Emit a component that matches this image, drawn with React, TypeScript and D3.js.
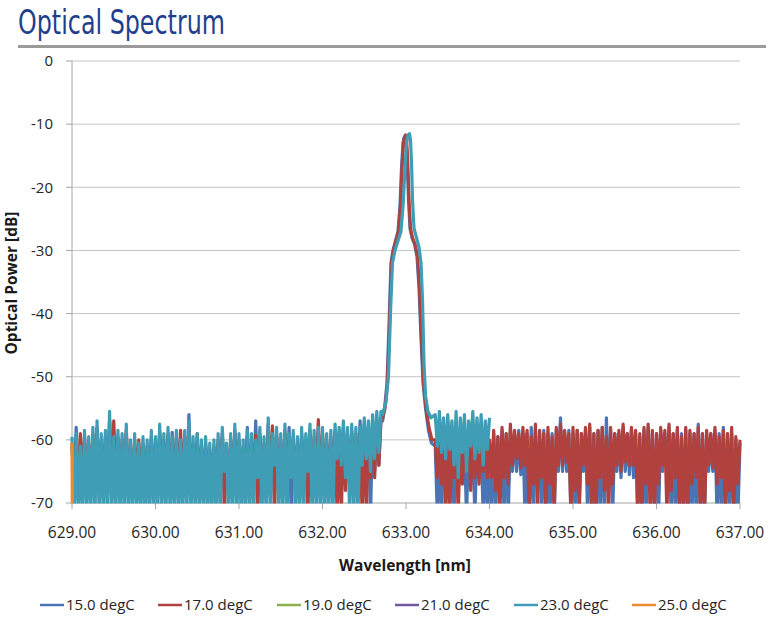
import React from "react";
import * as d3 from "d3";

// ---------- data ----------
const X_TICKS = [629, 630, 631, 632, 633, 634, 635, 636, 637];
const Y_TICKS = [0, -10, -20, -30, -40, -50, -60, -70];
const SERIES_NAMES = ["15.0 degC", "17.0 degC", "19.0 degC", "21.0 degC", "23.0 degC", "25.0 degC"];
const SERIES_COLORS = ["#4a74b4", "#b0413e", "#8db04f", "#7358a0", "#3f9db5", "#f08a30"];

// noise floor samples on a regular wavelength grid
const NOISE_STEP = 0.025;
const LEFT_START = 629.0;
const RIGHT_START = 633.35;

// 15.0 degC
const blueLeft = [
  -61,-67,-58,-67,-62.5,-67,-60,-67,-61,-67,-59.5,-67,-58.5,-67,-60.5,-67,-60,-67,-57,-67,
  -61,-67,-60,-67,-60.5,-67,-59,-67,-61.5,-67,-60.5,-67,-62,-67,-61,-67,-61.5,-67,-60,-67,
  -61,-67,-59,-67,-60.5,-67,-59.5,-67,-58.8,-67,-60,-67,-61.5,-67,-60,-67,-56,-67,-61,-67,
  -60.5,-67,-61.5,-67,-61,-67,-62,-67,-61.5,-67,-60.5,-67,-59.5,-67,-62,-67,-60.5,-67,-59,-67,
  -60.5,-67,-61.5,-67,-58,-67,-60.5,-67,-57,-67,-59.5,-67,-61,-67,-58,-67,-60.5,-67,-59.5,-67,
  -60.5,-67,-59,-67,-58,-72,-60,-67,-61,-67,-59.5,-67,-60.5,-67,-59,-67,-60,-67,-59.5,-67,
  -59.5,-67,-60.5,-67,-60,-67,-59,-67,-59.5,-67,-58.5,-67,-59.5,-67,-59,-67,-59.5,-67,-57,-67,
  -58,-67,-58.5,-72,-57.5,-65,-57,-64,-57,
];
const bluePeak: [number, number][] = [
  [632.72, -57], [632.743, -55], [632.772, -51], [632.796, -42], [632.82, -32], [632.844, -30],
  [632.874, -28.5], [632.904, -27], [632.928, -23], [632.946, -17], [632.964, -13], [632.976, -12.2],
  [632.988, -12], [633.0, -12.5], [633.012, -15], [633.03, -22], [633.048, -26.5], [633.072, -28],
  [633.102, -29], [633.132, -31], [633.156, -36], [633.18, -44], [633.204, -51], [633.234, -55],
  [633.269, -58.5], [633.305, -60.5],
];
const blueRight = [
  -61,-72,-61,-72,-60.5,-68,-61,-67,-60,-72,-61,-68,-60,-66,-61,-72,-60,-67,-61,-72,-60.5,-66,-61,-72,-60,-72,-60.5,
  -72,-59,-72,-59.5,-66,-58.5,-72,-59,-72,-58.5,
  -65,-59,-65,-58.5,-65.5,-59,-72,-59,-72,-58,
  -72,-58.5,-68,-59,-72,-58.5,-72,-59,-72,-59,
  -72,-58.5,-65,-56.5,-65,-59,-65,-58.5,-72,-59,
  -72,-58.5,-70,-59,-65,-58.5,-72,-58,-72,-59,
  -72,-58.5,-72,-58,-72,-56.5,-68,-58.5,-72,-59,
  -65,-59,-66,-58,-65,-59,-65.5,-58.5,-66,-59,
  -72,-59.5,-72,-58.5,-72,-58,-70,-59,-72,-59,
  -72,-58.5,-65,-59,-65,-58,-72,-59,-72,-58.5,
  -72,-59,-72,-58.5,-72,-59,-72,-59,-72,-57.5,
  -72,-59,-72,-59,-65,-59,-65,-58.5,-72,-59,
  -72,-58,-72,-59,-72,-59,-72,-60,-72,-60.5,
];

// 17.0 degC
const redLeft = [
  -60.5,-66,-60,-66,-59,-66,-59.5,-66,-60.5,-66,-59,-66,-58,-66,-60,-66,-59.5,-66,-57,-66,
  -57,-66,-59.5,-66,-60,-66,-58.5,-66,-61,-66,-60,-66,-60,-66,-60.5,-66,-61,-66,-59.5,-66,
  -60.5,-66,-58.5,-66,-60,-66,-59,-66,-60.5,-66,-59.5,-66,-58.5,-66,-59.5,-66,-58,-66,-60.5,-66,
  -59,-66,-61,-66,-60.5,-66,-61.5,-66,-61,-66,-60,-66,-59,-72,-61.5,-66,-60,-66,-58.5,-66,
  -60,-66,-61,-66,-59.5,-66,-60,-66,-59.3,-72,-59,-66,-60.5,-66,-57.5,-66,-57.8,-72,-59,-66,
  -60,-66,-58.5,-66,-60,-66,-59.5,-66,-60.5,-66,-59,-66,-60,-72,-58.5,-66,-59.5,-66,-56.8,-66,
  -59,-66,-60,-66,-59.5,-66,-58.5,-72,-59,-72,-58,-68,-59,-66,-58.5,-66,-59,-66,-59,-72,
  -57.5,-72,-58,-66,-57,-66,-56.5,-64,-56.5,
];
const redPeak: [number, number][] = [
  [632.72, -56.5], [632.749, -55], [632.778, -51], [632.802, -42], [632.826, -32], [632.85, -30],
  [632.88, -28.5], [632.91, -27], [632.934, -23], [632.952, -17], [632.97, -13], [632.982, -12],
  [632.994, -11.7], [633.006, -12.3], [633.018, -15], [633.036, -22], [633.054, -26.5], [633.078, -28],
  [633.108, -29], [633.138, -31], [633.162, -36], [633.186, -44], [633.21, -51], [633.24, -55],
  [633.275, -58], [633.311, -60],
];
const redRight = [
  -60,-66,-60.5,-67,-59.5,-72,-60,-72,-61,-66,-59.5,-72,-60.5,-67,-60,-65,-59,-68,-60.5,-66,-59.5,-67,-60,-65,-59,-66,-60,
  -66,-58.5,-68,-59.5,-72,-58,-66,-59,-67,-57.5,
  -64,-58.5,-63,-59,-64.5,-58,-64,-58.5,-72,-59.5,
  -67,-57.5,-72,-58.5,-66,-59,-72,-58,-67,-59.5,
  -72,-58,-64,-57.5,-64,-58.5,-63.5,-59,-72,-58,
  -68,-58.5,-72,-59,-64,-58,-67,-57.5,-72,-59,
  -72,-58.5,-66,-58,-68,-59.5,-72,-58,-67,-59,
  -64,-58.5,-65,-57.5,-63.5,-59,-64,-58,-64,-58.5,
  -72,-59,-72,-58,-67,-57.5,-72,-58.5,-72,-59,
  -67,-58,-64,-58.5,-72,-57.5,-68,-59,-66,-58,
  -72,-59.5,-72,-58,-72,-58.5,-67,-59,-66,-58,
  -72,-59,-72,-58.5,-64,-59,-64.5,-58,-67,-59.5,
  -66,-58.5,-72,-59,-68,-58,-72,-59.5,-67,-60,
];

// 23.0 degC
const tealLeft = [
  -59.5,-72,-59,-72,-61,-72,-58.5,-72,-59.5,-72,-58,-72,-57,-72,-59,-72,-58.5,-72,-55.5,-72,
  -59.5,-72,-58.5,-72,-59,-72,-57.5,-72,-60,-72,-59,-72,-60.5,-72,-59.5,-72,-60,-72,-58.5,-72,
  -59.5,-72,-57.5,-72,-59,-72,-58,-72,-59.5,-72,-58.5,-72,-60,-72,-58.5,-72,-57,-72,-59.5,-72,
  -59,-72,-60,-72,-59.5,-72,-60.5,-72,-60,-72,-59,-72,-58,-65,-60.5,-72,-59,-72,-57.5,-72,
  -59,-72,-60,-72,-58.5,-72,-59,-72,-60,-66,-58,-72,-59.5,-72,-56.5,-72,-59,-64,-58,-72,
  -59,-72,-57.5,-72,-59,-66,-58.5,-72,-59.5,-72,-58,-72,-59,-65,-57.5,-72,-58.5,-72,-58,-72,
  -58,-72,-59,-72,-58.5,-72,-57.5,-63,-58,-64,-57,-66,-58,-72,-57.5,-72,-58,-72,-58,-64,
  -56.5,-63,-57,-65,-56,-63,-55.5,-62,-55.5,
];
const tealPeak: [number, number][] = [
  [632.72, -56], [632.76, -54], [632.79, -50], [632.814, -40], [632.838, -32], [632.868, -30],
  [632.904, -28.5], [632.94, -27], [632.964, -23], [632.988, -17], [633.006, -13], [633.024, -11.7],
  [633.042, -11.5], [633.054, -12.5], [633.066, -16], [633.078, -22], [633.096, -26.5], [633.126, -28],
  [633.156, -29.5], [633.18, -32], [633.198, -38], [633.216, -48], [633.234, -53], [633.263, -55.5],
  [633.299, -56.5],
];
const tealRight = [
  -56,-61,-55.5,-62,-56.5,-63,-56,-61.5,-57,-64,-55.5,-66,-56.5,-62,-56,-65,-57,-61,-55.5,-63,
  -56.5,-62,-56,-64,-57,-61.5,-56.5,
];

// 25.0 degC (only a short trace at the start)
const orangeTrace: [number, number][] = [[629.0, -60.5], [629.004, -72]];

// ---------- helpers ----------
function assemble(left: number[], peak: [number, number][], right: number[]): [number, number][] {
  const a: [number, number][] = left.map((v, i) => [LEFT_START + i * NOISE_STEP, v]);
  const c: [number, number][] = right.map((v, i) => [RIGHT_START + i * NOISE_STEP, v]);
  return [...a, ...peak, ...c];
}

const SERIES_DATA: [number, number][][] = [
  assemble(blueLeft, bluePeak, blueRight),
  assemble(redLeft, redPeak, redRight),
  [],
  [],
  assemble(tealLeft, tealPeak, tealRight),
  orangeTrace,
];

export default function App() {
  const x = d3.scaleLinear().domain([629, 637]).range([72, 740]);
  const y = d3.scaleLinear().domain([-70, 0]).range([503, 61]);
  const line = d3
    .line<[number, number]>()
    .x((d) => x(d[0]))
    .y((d) => y(d[1]));

  const font = "'Open Sans', 'DejaVu Sans', sans-serif";
  const legendX = [40, 158, 277, 395, 514, 632];

  return (
    <svg
      width={774}
      height={628}
      style={{ position: "absolute", left: 0, top: 0, background: "#fff" }}
      xmlns="http://www.w3.org/2000/svg"
    >
      <rect x={0} y={0} width={774} height={628} fill="#fff" />
      {/* title */}
      <text
        x={18}
        y={34}
        fontFamily="'Liberation Sans Narrow', 'DejaVu Sans Condensed', 'DejaVu Sans', sans-serif"
        fontSize={33}
        fill="#1f3f8e"
        textLength={207}
        lengthAdjust="spacingAndGlyphs"
      >
        Optical Spectrum
      </text>
      <rect x={18} y={45} width={748} height={3} fill="#9a9a9a" />

      <defs>
        <clipPath id="plotClip">
          <rect x={69} y={40} width={674} height={463.5} />
        </clipPath>
      </defs>

      {/* gridlines */}
      {Y_TICKS.filter((t) => t !== -70).map((t) => (
        <line key={t} x1={x(629)} x2={x(637)} y1={y(t)} y2={y(t)} stroke="#c4c4c4" strokeWidth={1} />
      ))}

      {/* axes */}
      <line x1={x(629)} x2={x(629)} y1={y(0)} y2={y(-70)} stroke="#a6a6a6" strokeWidth={1} />
      <line x1={x(629)} x2={x(637)} y1={y(-70)} y2={y(-70)} stroke="#a6a6a6" strokeWidth={1} />
      {Y_TICKS.map((t) => (
        <line key={"yt" + t} x1={x(629) - 6} x2={x(629)} y1={y(t)} y2={y(t)} stroke="#a6a6a6" />
      ))}
      {X_TICKS.map((t) => (
        <line key={"xt" + t} x1={x(t)} x2={x(t)} y1={y(-70)} y2={y(-70) + 6} stroke="#a6a6a6" />
      ))}

      {/* series */}
      <g clipPath="url(#plotClip)">
        {SERIES_DATA.map((d, i) =>
          d.length ? (
            <path
              key={i}
              d={line(d) || ""}
              fill="none"
              stroke={SERIES_COLORS[i]}
              strokeWidth={3.2}
              strokeLinejoin="round"
            />
          ) : null
        )}
      </g>

      {/* tick labels */}
      {Y_TICKS.map((t) => (
        <text
          key={"yl" + t}
          x={53}
          y={y(t)}
          dy="0.35em"
          textAnchor="end"
          fontFamily={font}
          fontSize={15}
          fill="#262626"
        >
          {t}
        </text>
      ))}
      {X_TICKS.map((t) => (
        <text
          key={"xl" + t}
          x={x(t)}
          y={533}
          dy="0.35em"
          textAnchor="middle"
          fontFamily={font}
          fontSize={15.5}
          fill="#262626"
        >
          {t.toFixed(2)}
        </text>
      ))}

      {/* axis titles */}
      <text x={405} y={566} dy="0.35em" textAnchor="middle" fontFamily={font} fontSize={15.5} fontWeight={700} fill="#1a1a1a">
        Wavelength [nm]
      </text>
      <text
        transform="translate(12,283) rotate(-90)"
        dy="0.35em"
        textAnchor="middle"
        fontFamily={font}
        fontSize={15.5}
        fontWeight={700}
        fill="#1a1a1a"
      >
        Optical Power [dB]
      </text>

      {/* legend */}
      {SERIES_NAMES.map((n, i) => (
        <g key={n} transform={`translate(${legendX[i]},605)`}>
          <line x1={0} x2={24} y1={0} y2={0} stroke={SERIES_COLORS[i]} strokeWidth={2.5} />
          <text x={26} y={0} dy="0.35em" fontFamily={font} fontSize={15} fill="#262626">
            {n}
          </text>
        </g>
      ))}
    </svg>
  );
}
